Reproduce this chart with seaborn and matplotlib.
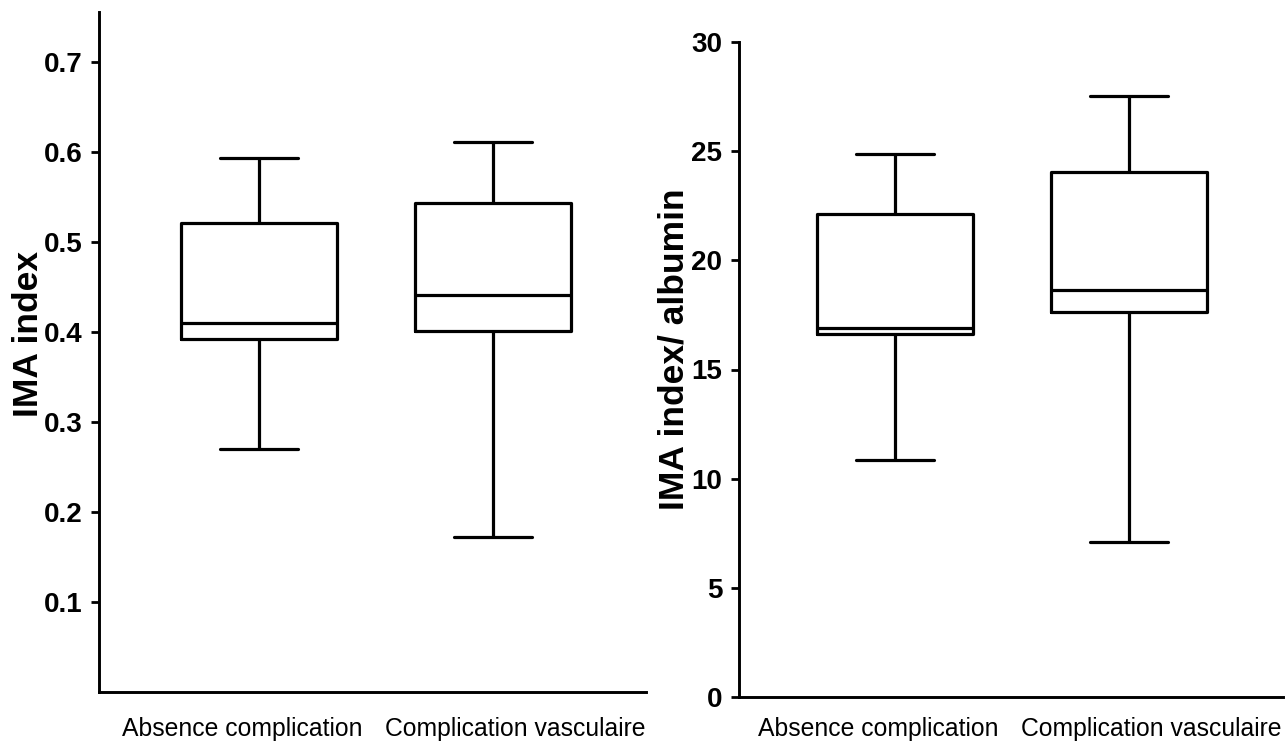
import numpy as np
import pandas as pd
import seaborn as sns
from matplotlib import pyplot as plt
from matplotlib.transforms import ScaledTranslation

groups = ["Absence complication", "Complication vasculaire"]

# five-number summaries: min, Q1, median, Q3, max
ima_absence = [0.270, 0.392, 0.410, 0.521, 0.593]
ima_vasc = [0.172, 0.401, 0.441, 0.543, 0.611]
ratio_absence = [10.86, 16.63, 16.90, 22.12, 24.87]
ratio_vasc = [7.10, 17.64, 18.64, 24.05, 27.53]

left_ticks = [0.1, 0.2, 0.3, 0.4, 0.5, 0.6, 0.7]
right_ticks = [0, 5, 10, 15, 20, 25, 30]

ima = pd.DataFrame({
    "group": [groups[0]] * len(ima_absence) + [groups[1]] * len(ima_vasc),
    "value": ima_absence + ima_vasc,
})
ratio = pd.DataFrame({
    "group": [groups[0]] * len(ratio_absence) + [groups[1]] * len(ratio_vasc),
    "value": ratio_absence + ratio_vasc,
})

sns.set_style("ticks")
plt.rcParams["font.family"] = ["Liberation Sans", "DejaVu Sans"]
plt.rcParams["text.color"] = "black"

fig = plt.figure(figsize=(12.88, 7.46), dpi=100)
ax1 = fig.add_axes([99 / 1288, 1 - 692 / 746, 547 / 1288, 680 / 746])
ax2 = fig.add_axes([739 / 1288, 1 - 697 / 746, 544 / 1288, 655 / 746])


def draw(ax, df, ylim, xlim, ticks, label, label_xy, xpad):
    sns.boxplot(data=df, x="group", y="value", order=groups, ax=ax,
                fill=False, color="black", linecolor="black", linewidth=2.3,
                width=0.67, whis=(0, 100), showfliers=False)
    ax.set_ylim(*ylim)
    ax.set_xlim(*xlim)
    ax.set_yticks(ticks)
    ax.set_yticklabels([f"{t:g}" for t in ticks], fontweight="bold", fontsize=20)
    ax.set_xlabel("")
    ax.set_ylabel(label, fontsize=25.5, fontweight="bold", color="black")
    ax.yaxis.label.set_va("center")
    ax.yaxis.set_label_coords(*label_xy)
    sns.despine(ax=ax)
    for s in ["left", "bottom"]:
        ax.spines[s].set_linewidth(2.1)
        ax.spines[s].set_color("black")
    ax.tick_params(axis="y", length=6, width=2, pad=6, colors="black")
    ax.tick_params(axis="x", length=0, pad=xpad, labelsize=17.8, colors="black")
    offsets = [-17, 22]
    for lab, dx in zip(ax.get_xticklabels(), offsets):
        lab.set_transform(lab.get_transform()
                          + ScaledTranslation(dx / 100, 0, fig.dpi_scale_trans))


draw(ax1, ima, (0, 0.755), (-0.684, 1.654), left_ticks, "IMA index",
     (-0.128, 0.526), 18)
draw(ax2, ratio, (0, 30), (-0.667, 1.658), right_ticks, "IMA index/ albumin",
     (-0.1195, 0.5305), 14.5)

fig.savefig("out.png", dpi=100)
